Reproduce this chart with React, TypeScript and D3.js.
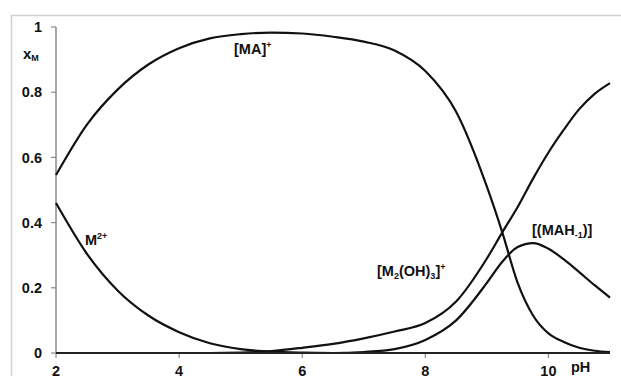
import React from 'react';
import * as d3 from 'd3';

const width = 621;
const height = 376;

// pH grid and species fractions
const pH = [2, 2.5, 3, 3.5, 4, 4.5, 5, 5.5, 6, 6.5, 7, 7.5, 8, 8.5, 9, 9.25, 9.5, 9.75, 10, 10.25, 10.5, 10.75, 11];
const MA = [0.546, 0.70, 0.808, 0.885, 0.935, 0.965, 0.978, 0.983, 0.98, 0.97, 0.955, 0.928, 0.865, 0.74, 0.51, 0.37, 0.215, 0.115, 0.06, 0.034, 0.016, 0.007, 0.003];
const M2plus = [0.46, 0.305, 0.192, 0.115, 0.064, 0.03, 0.012, 0.004, 0.001, 0, 0, 0, 0, 0, 0, 0, 0, 0, 0, 0, 0, 0, 0];
const M2OH3 = [0, 0, 0, 0, 0, 0, 0.001, 0.006, 0.016, 0.028, 0.045, 0.066, 0.092, 0.158, 0.29, 0.37, 0.448, 0.535, 0.615, 0.685, 0.748, 0.795, 0.828];
const MAH = [0, 0, 0, 0, 0, 0, 0, 0, 0, 0, 0.003, 0.012, 0.04, 0.1, 0.215, 0.28, 0.325, 0.337, 0.32, 0.287, 0.248, 0.208, 0.17];

const series = [MA, M2plus, M2OH3, MAH];

const xTicks = [2, 4, 6, 8, 10];
const yTicks = [0, 0.2, 0.4, 0.6, 0.8, 1];

const font = '"Liberation Sans", Arial, sans-serif';

export default function App() {
  const x = d3.scaleLinear().domain([2, 11]).range([56, 610]);
  const y = d3.scaleLinear().domain([0, 1]).range([353, 27]);

  const line = d3.line<number>()
    .x((_, i) => x(pH[i]))
    .y(d => y(d))
    .curve(d3.curveMonotoneX);

  return (
    <svg width={width} height={height} style={{position: 'absolute', left: 0, top: 0}}
         fontFamily={font} fontWeight="bold">
      <rect x={0} y={0} width={width} height={height} fill="#fff"/>
      {/* chart area border */}
      <path d={`M11.5,${height} V15.5 H${width}`} fill="none" stroke="#d0d0d0" strokeWidth={1.5}/>

      {/* y axis */}
      <line x1={56} x2={56} y1={y(1)} y2={y(0)} stroke="#8a8a8a" strokeWidth={1.5}/>
      {yTicks.map(t => (
        <g key={t}>
          <line x1={51} x2={56} y1={y(t)} y2={y(t)} stroke="#8a8a8a" strokeWidth={1.2}/>
          <text x={42} y={y(t)} dy="0.36em" textAnchor="end" fontSize={14.5} fill="#111">{t}</text>
        </g>
      ))}
      <text x={23} y={59} fontSize={15} fill="#111">x<tspan fontSize={9} dy={2}>M</tspan></text>

      {/* x axis */}
      {xTicks.map(t => (
        <g key={t}>
          <line x1={x(t)} x2={x(t)} y1={353} y2={358} stroke="#8a8a8a" strokeWidth={1.2}/>
          <text x={x(t)} y={375.5} textAnchor="middle" fontSize={14.5} fill="#111">{t}</text>
        </g>
      ))}
      <text x={571} y={372} fontSize={14.5} fill="#111">pH</text>

      {series.map((s, i) => (
        <path key={i} d={line(s) || ''} fill="none" stroke="#111" strokeWidth={2.2}/>
      ))}
      <line x1={56} x2={610} y1={353} y2={353} stroke="#222" strokeWidth={2}/>

      {/* species labels */}
      <text x={234} y={54} fontSize={14.5} fill="#111">[MA]<tspan fontSize={9} dy={-6}>+</tspan></text>
      <text x={85} y={245} fontSize={14.5} fill="#111">M<tspan fontSize={9} dy={-6}>2+</tspan></text>
      <text x={377} y={276} fontSize={14.5} fill="#111">[M<tspan fontSize={9} dy={3}>2</tspan><tspan dy={-3}>(OH)</tspan><tspan fontSize={9} dy={3}>3</tspan><tspan dy={-3}>]</tspan><tspan fontSize={9} dy={-6}>+</tspan></text>
      <text x={532} y={235} fontSize={14.5} fill="#111">[(MAH<tspan fontSize={9} dy={3}>-1</tspan><tspan dy={-3}>)]</tspan></text>
    </svg>
  );
}
